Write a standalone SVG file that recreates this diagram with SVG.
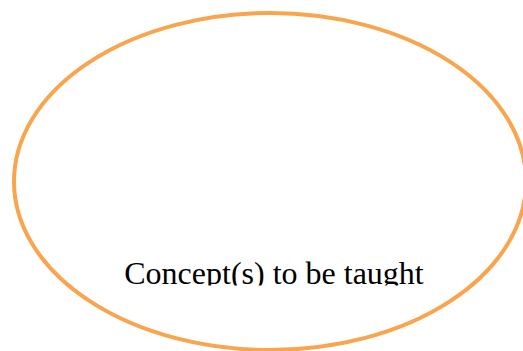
<svg xmlns="http://www.w3.org/2000/svg" width="523" height="351" viewBox="0 0 523 351">
<defs>
<style>
.oval{fill:#ffffff;stroke:#F9A54E;stroke-width:4}
.label{font-family:"Liberation Serif","Times New Roman",serif;font-size:32px;fill:#000000}
</style>
<clipPath id="textclip"><rect x="0" y="0" width="523" height="285.5"/></clipPath>
</defs>
<rect width="523" height="351" fill="#ffffff"/>
<g id="concept">
<ellipse class="oval" cx="270" cy="181.5" rx="256" ry="168.5"/>
<text class="label" x="274" y="284" text-anchor="middle" clip-path="url(#textclip)">Concept(s) to be taught</text>
</g>
<g id="connectors"/>
</svg>
